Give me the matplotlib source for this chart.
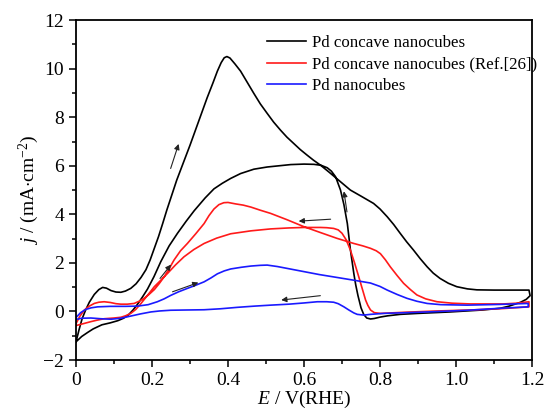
import numpy as np
import matplotlib
matplotlib.use('Agg')
import matplotlib.pyplot as plt
from matplotlib.ticker import MultipleLocator

plt.rcParams['font.family'] = ['Liberation Serif', 'DejaVu Serif']
plt.rcParams['mathtext.fontset'] = 'custom'
plt.rcParams['mathtext.rm'] = 'Liberation Serif'
plt.rcParams['mathtext.it'] = 'Liberation Serif:italic'

# Pd concave nanocubes (black): forward then backward scan
blk_fx = [0.000, 0.008, 0.016, 0.025, 0.035, 0.048, 0.060, 0.070, 0.080, 0.092,
          0.105, 0.118, 0.130, 0.144, 0.158, 0.171, 0.184, 0.195, 0.206, 0.217,
          0.228, 0.239, 0.252, 0.265, 0.283, 0.300, 0.315, 0.330, 0.345, 0.360,
          0.372, 0.382, 0.390, 0.397, 0.405, 0.418, 0.433, 0.450, 0.468, 0.485,
          0.503, 0.520, 0.538, 0.555, 0.573, 0.590, 0.608, 0.625, 0.643, 0.665,
          0.690, 0.722, 0.750, 0.783, 0.800, 0.819, 0.836, 0.853, 0.870, 0.888,
          0.906, 0.924, 0.940, 0.958, 0.980, 1.002, 1.030, 1.055, 1.100, 1.150,
          1.192]
blk_fy = [-1.25, -0.75, -0.30, 0.05, 0.38, 0.70, 0.90, 0.99, 0.96, 0.86,
          0.80, 0.79, 0.84, 0.95, 1.14, 1.40, 1.72, 2.12, 2.60, 3.08,
          3.62, 4.18, 4.80, 5.41, 6.15, 6.85, 7.50, 8.15, 8.80, 9.40,
          9.90, 10.25, 10.45, 10.50, 10.44, 10.20, 9.90, 9.45, 8.98, 8.55,
          8.16, 7.80, 7.47, 7.18, 6.92, 6.67, 6.44, 6.23, 6.03, 5.75,
          5.42, 5.00, 4.75, 4.45, 4.22, 3.90, 3.58, 3.22, 2.87, 2.53,
          2.17, 1.84, 1.58, 1.36, 1.16, 1.02, 0.93, 0.89, 0.88, 0.88,
          0.88]
blk_bx = [1.195, 1.185, 1.170, 1.140, 1.116, 1.070, 1.029, 0.985, 0.941, 0.900,
          0.853, 0.820, 0.801, 0.785, 0.775, 0.765, 0.757, 0.750, 0.742, 0.736,
          0.731, 0.722, 0.714, 0.705, 0.696, 0.683, 0.672, 0.661, 0.645, 0.626,
          0.600, 0.565, 0.535, 0.503, 0.468, 0.433, 0.407, 0.385, 0.363, 0.340,
          0.311, 0.290, 0.267, 0.245, 0.223, 0.205, 0.188, 0.175, 0.162, 0.150,
          0.138, 0.125, 0.110, 0.090, 0.068, 0.045, 0.031, 0.015, 0.000]
blk_by = [0.65, 0.50, 0.38, 0.22, 0.13, 0.06, 0.02, -0.02, -0.05, -0.08,
          -0.12, -0.18, -0.23, -0.29, -0.31, -0.27, -0.12, 0.15, 0.65, 1.10,
          1.57, 2.55, 3.62, 4.40, 5.00, 5.55, 5.78, 5.92, 6.02, 6.06,
          6.07, 6.05, 6.00, 5.95, 5.86, 5.68, 5.48, 5.28, 5.05, 4.68,
          4.15, 3.72, 3.22, 2.70, 2.05, 1.43, 0.92, 0.60, 0.30, 0.06,
          -0.14, -0.28, -0.38, -0.47, -0.55, -0.72, -0.86, -1.03, -1.25]

# Pd concave nanocubes (Ref.[26]) (red)
red_fx = [0.000, 0.010, 0.022, 0.035, 0.048, 0.060, 0.074, 0.090, 0.105, 0.118,
          0.135, 0.153, 0.166, 0.179, 0.192, 0.206, 0.219, 0.232, 0.245, 0.258,
          0.275, 0.293, 0.315, 0.337, 0.350, 0.363, 0.376, 0.389, 0.400, 0.420,
          0.440, 0.460, 0.485, 0.512, 0.555, 0.600, 0.645, 0.687, 0.710, 0.731,
          0.755, 0.775, 0.790, 0.801, 0.814, 0.827, 0.845, 0.862, 0.880, 0.897,
          0.920, 0.950, 0.990, 1.037, 1.080, 1.125, 1.160, 1.192]
red_fy = [-0.50, -0.20, 0.06, 0.22, 0.33, 0.38, 0.40, 0.37, 0.32, 0.30,
          0.30, 0.33, 0.42, 0.54, 0.70, 0.90, 1.15, 1.43, 1.76, 2.12,
          2.50, 2.80, 3.20, 3.62, 3.95, 4.22, 4.40, 4.48, 4.49, 4.43,
          4.38, 4.30, 4.17, 4.04, 3.78, 3.49, 3.24, 3.01, 2.90, 2.80,
          2.70, 2.60, 2.50, 2.38, 2.13, 1.84, 1.48, 1.16, 0.90, 0.68,
          0.52, 0.40, 0.34, 0.31, 0.31, 0.31, 0.34, 0.40]
red_bx = [1.192, 1.125, 1.040, 0.950, 0.870, 0.801, 0.785, 0.775, 0.768, 0.762,
          0.753, 0.744, 0.733, 0.722, 0.711, 0.700, 0.690, 0.678, 0.660, 0.643,
          0.620, 0.600, 0.560, 0.512, 0.460, 0.407, 0.370, 0.337, 0.310, 0.284,
          0.262, 0.241, 0.224, 0.206, 0.188, 0.171, 0.157, 0.144, 0.130, 0.118,
          0.100, 0.074, 0.055, 0.039, 0.020, 0.000]
red_by = [0.19, 0.12, 0.06, 0.02, -0.03, -0.08, -0.05, 0.06, 0.25, 0.47,
          0.95, 1.43, 2.00, 2.53, 2.95, 3.22, 3.36, 3.42, 3.45, 3.46,
          3.46, 3.46, 3.44, 3.40, 3.32, 3.20, 3.02, 2.80, 2.55, 2.25,
          1.92, 1.57, 1.30, 1.02, 0.66, 0.33, 0.08, -0.08, -0.18, -0.24,
          -0.27, -0.30, -0.36, -0.42, -0.50, -0.58]

# Pd nanocubes (blue)
blu_fx = [0.000, 0.012, 0.025, 0.040, 0.057, 0.090, 0.130, 0.162, 0.190, 0.214,
          0.232, 0.249, 0.270, 0.293, 0.315, 0.337, 0.355, 0.372, 0.390, 0.407,
          0.435, 0.460, 0.485, 0.503, 0.530, 0.560, 0.600, 0.640, 0.687, 0.730,
          0.775, 0.800, 0.819, 0.845, 0.871, 0.897, 0.924, 0.960, 1.029, 1.116,
          1.190]
blu_fy = [-0.25, -0.05, 0.08, 0.15, 0.19, 0.21, 0.21, 0.22, 0.28, 0.40,
          0.52, 0.66, 0.81, 0.95, 1.08, 1.22, 1.38, 1.55, 1.67, 1.75,
          1.82, 1.87, 1.90, 1.91, 1.85, 1.76, 1.64, 1.52, 1.40, 1.29,
          1.17, 1.03, 0.88, 0.70, 0.54, 0.42, 0.33, 0.28, 0.26, 0.29,
          0.33]
blu_bx = [1.190, 1.116, 1.030, 0.941, 0.870, 0.810, 0.775, 0.757, 0.740, 0.731,
          0.718, 0.705, 0.690, 0.678, 0.660, 0.635, 0.600, 0.560, 0.512, 0.470,
          0.425, 0.380, 0.337, 0.290, 0.249, 0.220, 0.197, 0.170, 0.144, 0.118,
          0.092, 0.065, 0.039, 0.015, 0.000]
blu_by = [0.19, 0.13, 0.05, -0.01, -0.05, -0.08, -0.12, -0.15, -0.12, -0.06,
          0.06, 0.19, 0.32, 0.38, 0.40, 0.40, 0.35, 0.30, 0.26, 0.22,
          0.17, 0.11, 0.07, 0.06, 0.05, 0.02, -0.02, -0.10, -0.19, -0.28,
          -0.32, -0.30, -0.27, -0.28, -0.33]

labels = ['Pd concave nanocubes', 'Pd concave nanocubes (Ref.[26])', 'Pd nanocubes']

# scan direction arrows: (tail, head)
arrows = [((0.249, 5.89), (0.270, 6.90)),
          ((0.713, 4.10), (0.705, 4.95)),
          ((0.670, 3.80), (0.586, 3.72)),
          ((0.643, 0.65), (0.540, 0.47)),
          ((0.221, 1.36), (0.250, 1.93)),
          ((0.254, 0.81), (0.322, 1.19))]

fig = plt.figure(figsize=(5.47, 4.16), dpi=100)
ax = fig.add_axes([0.139, 0.1346, 0.8336, 0.817])

curves = [(blk_fx, blk_fy, blk_bx, blk_by, 'black'),
          (red_fx, red_fy, red_bx, red_by, '#ff1a1a'),
          (blu_fx, blu_fy, blu_bx, blu_by, '#1a1aff')]
for (fx, fy, bx, by, c), lab in zip(curves, labels):
    ax.plot(np.concatenate([fx, bx]), np.concatenate([fy, by]),
            color=c, lw=1.2, label=lab)

for tail, head in arrows:
    ax.annotate('', xy=head, xytext=tail,
                arrowprops=dict(arrowstyle='-|>', color='#222222', lw=0.8,
                                mutation_scale=8, shrinkA=0, shrinkB=0))

ax.set_xlim(0, 1.2)
ax.set_ylim(-2, 12)
ax.xaxis.set_minor_locator(MultipleLocator(0.1))
ax.yaxis.set_major_locator(MultipleLocator(2))
ax.yaxis.set_minor_locator(MultipleLocator(1))
ax.set_xticks([0, 0.2, 0.4, 0.6, 0.8, 1.0, 1.2])
ax.set_xticklabels(['0', '0.2', '0.4', '0.6', '0.8', '1.0', '1.2'])
ax.tick_params(which='both', direction='out', top=False, right=False,
               labelsize=14, width=1.1)
ax.tick_params(which='major', length=5)
ax.tick_params(which='minor', length=3)
for s in ax.spines.values():
    s.set_linewidth(1.3)

ax.set_xlabel(r'$E$ / V(RHE)', fontsize=14, labelpad=0)
ax.set_ylabel(r'$j$ / (mA$\cdot$cm$^{-2}$)', fontsize=14, labelpad=2)

ax.legend(loc='upper left', bbox_to_anchor=(0.405, 0.975), borderaxespad=0,
          frameon=False, fontsize=12.2, handlelength=2.3, handletextpad=0.35,
          labelspacing=0.3)

fig.savefig('out.png', dpi=100)
